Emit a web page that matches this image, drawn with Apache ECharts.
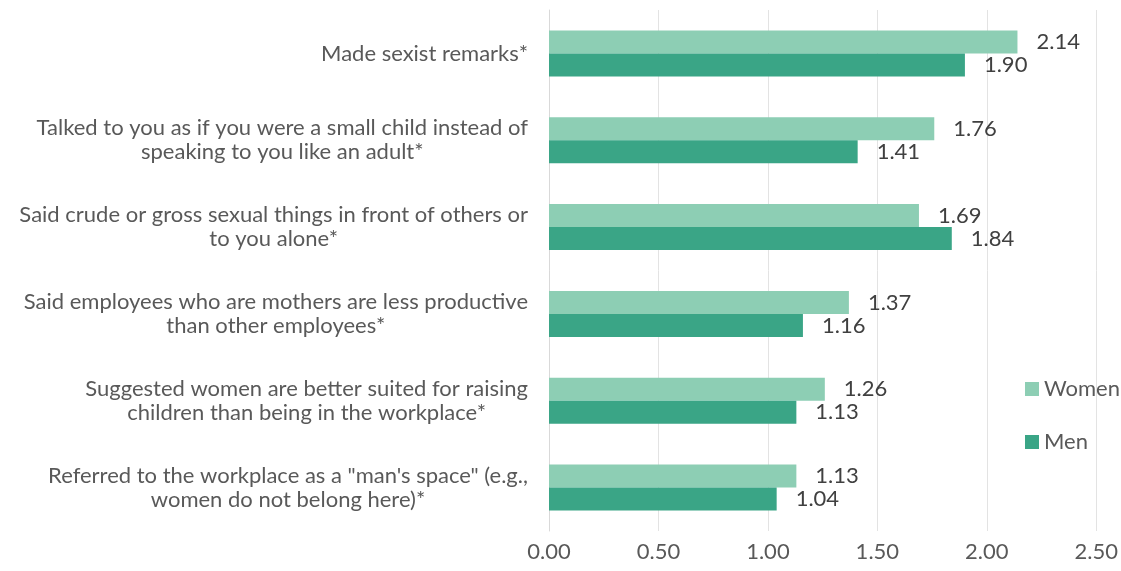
<!DOCTYPE html>
<html>
<head>
<meta charset="utf-8">
<script src="https://cdn.jsdelivr.net/npm/echarts@6/dist/echarts.min.js"></script>
<style>
  html, body { margin: 0; padding: 0; background: #ffffff; }
  #chart { width: 1121px; height: 571px; }
</style>
</head>
<body>
<div id="chart"></div>
<script>
// Behaviours experienced, listed top to bottom
const categories = [
  'Made sexist remarks*',
  'Talked to you as if you were a small child instead of\nspeaking to you like an adult*',
  'Said crude or gross sexual things in front of others or\nto you alone*',
  'Said employees who are mothers are less productive\nthan other employees*',
  'Suggested women are better suited for raising\nchildren than being in the workplace*',
  'Referred to the workplace as a "man\'s space" (e.g.,\nwomen do not belong here)*'
];
const seriesNames = ['Women', 'Men'];
const womenValues = [2.14, 1.76, 1.69, 1.37, 1.26, 1.13];
const menValues = [1.90, 1.41, 1.84, 1.16, 1.13, 1.04];
const xTicks = { min: 0, max: 2.5, interval: 0.5 };

const FONT = 'Lato, "Open Sans", sans-serif';
const FS = 22;
const chart = echarts.init(document.getElementById('chart'));

// Each category line is wrapped in a centred rich-text token so that
// multi-line labels are centred within a right-aligned block.
function centredLines(value) {
  return value.split('\n').map(l => '{c|' + l + '}').join('\n');
}

const valueLabel = {
  show: true,
  position: 'right',
  distance: 19,
  color: '#404040',
  fontFamily: FONT,
  fontSize: FS,
  formatter: p => p.value.toFixed(2)
};

chart.setOption({
  animation: false,
  textStyle: { fontFamily: FONT },
  grid: { left: 549, right: 24, top: 10, bottom: 40, containLabel: false },
  legend: {
    orient: 'vertical',
    left: 1020,
    top: 373,
    itemWidth: 14,
    itemHeight: 14,
    itemGap: 31,
    icon: 'rect',
    textStyle: { color: '#595959', fontSize: FS, lineHeight: 22, fontFamily: FONT },
    data: seriesNames
  },
  xAxis: {
    type: 'value',
    min: xTicks.min,
    max: xTicks.max,
    interval: xTicks.interval,
    axisLine: { show: false },
    axisTick: { show: false },
    splitLine: { show: true, lineStyle: { color: '#e3e3e3', width: 1 } },
    axisLabel: {
      color: '#595959',
      fontSize: FS,
      fontFamily: FONT,
      margin: 10,
      formatter: v => v.toFixed(2)
    }
  },
  yAxis: {
    type: 'category',
    inverse: true,
    data: categories,
    axisLine: { show: true, lineStyle: { color: '#d9d9d9', width: 1 } },
    axisTick: { show: false },
    axisLabel: {
      align: 'right',
      margin: 21,
      color: '#595959',
      fontSize: FS,
      fontFamily: FONT,
      lineHeight: 24,
      formatter: centredLines,
      rich: {
        c: { align: 'center', color: '#595959', fontSize: FS, fontFamily: FONT, lineHeight: 24 }
      }
    }
  },
  series: [
    {
      name: seriesNames[0],
      type: 'bar',
      data: womenValues,
      barWidth: 23,
      barGap: '0%',
      itemStyle: { color: '#8dceb4' },
      label: valueLabel
    },
    {
      name: seriesNames[1],
      type: 'bar',
      data: menValues,
      barWidth: 23,
      barGap: '0%',
      itemStyle: { color: '#3aa586' },
      label: valueLabel
    }
  ]
});
</script>
</body>
</html>
